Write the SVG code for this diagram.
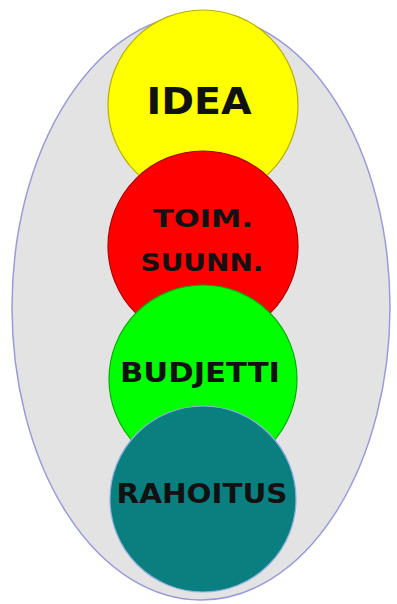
<svg xmlns="http://www.w3.org/2000/svg" width="397" height="604" viewBox="0 0 397 604">
<style>
.lbl{font-family:"DejaVu Sans","Liberation Sans",sans-serif;font-weight:bold;fill:#111;text-anchor:middle}
.c{stroke-width:1.2}
</style>
<rect width="397" height="604" fill="#ffffff"/>
<g id="container">
<ellipse cx="201" cy="307" rx="189" ry="293" fill="#e3e3e3" stroke="#9a9ad8" stroke-width="1.5"/>
</g>
<g id="connectors"></g>
<g id="idea">
<circle class="c" cx="203" cy="105" r="95" fill="#ffff00" stroke="#b8b000"/>
<text class="lbl" x="199" y="114" font-size="37" textLength="105" lengthAdjust="spacingAndGlyphs">IDEA</text>
</g>
<g id="toim">
<circle class="c" cx="203" cy="246" r="95" fill="#ff0000" stroke="#b00000"/>
<text class="lbl" x="203" y="227" font-size="25" textLength="100" lengthAdjust="spacingAndGlyphs">TOIM.</text>
<text class="lbl" x="202" y="271" font-size="25" textLength="123" lengthAdjust="spacingAndGlyphs">SUUNN.</text>
</g>
<g id="budjetti">
<circle class="c" cx="203" cy="379" r="94" fill="#00ff00" stroke="#00b000"/>
<text class="lbl" x="200" y="382" font-size="27" textLength="160" lengthAdjust="spacingAndGlyphs">BUDJETTI</text>
</g>
<g id="rahoitus">
<circle class="c" cx="203" cy="499" r="93" fill="#0a7f80" stroke="#8fb0e0"/>
<text class="lbl" x="202" y="503" font-size="27" textLength="171" lengthAdjust="spacingAndGlyphs">RAHOITUS</text>
</g>
</svg>
